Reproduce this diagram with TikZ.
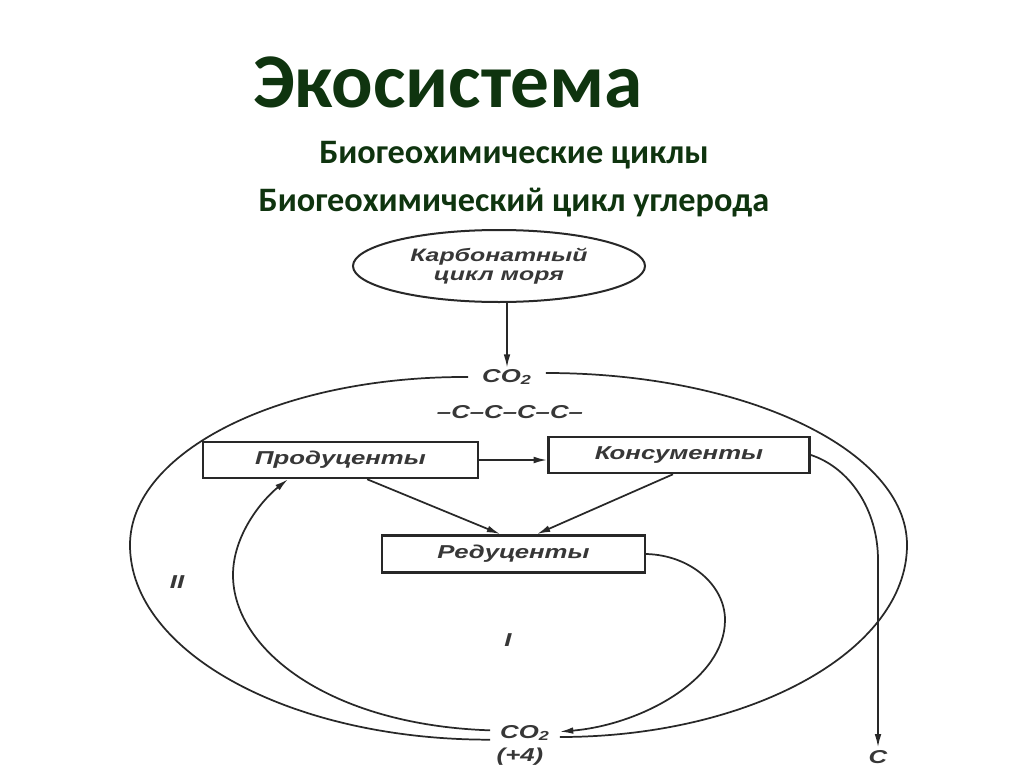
\documentclass[tikz,border=0pt]{standalone}
\usepackage{fontspec}
\usepackage{graphicx}
\setmainfont{Carlito}
\newfontfamily\dfont{Liberation Sans}
\usetikzlibrary{shapes.geometric,arrows.meta}
\definecolor{titlegreen}{RGB}{15,52,15}
\definecolor{ink}{RGB}{40,40,40}
\definecolor{txtgray}{RGB}{55,55,55}
\newcommand\dtxt[1]{\scalebox{1.38}[1]{#1}}
\tikzset{
  titletext/.style={text=titlegreen,font=\bfseries,inner sep=0pt},
  dlab/.style={text=txtgray,font=\dfont\bfseries\itshape\fontsize{14}{15}\selectfont,inner sep=0pt},
  boxnode/.style={draw=ink,line width=1.9pt,rectangle,inner sep=0pt,text=txtgray,
     font=\dfont\bfseries\itshape\fontsize{14}{15}\selectfont},
  conn/.style={draw=ink,line width=1.3pt},
  arr/.style={conn,-{Latex[length=10pt,width=5pt]}},
}
\begin{document}
\begin{tikzpicture}[x=0.75pt,y=-0.75pt]
\useasboundingbox[fill=white] (0,0) rectangle (1024,767);
% titles
\node[titletext,anchor=base west,font=\bfseries\fontsize{58}{60}\selectfont] (title) at (253,108) {Экосистема};
\node[titletext,font=\bfseries\fontsize{25.7}{28}\selectfont] (sub1) at (514,155) {Биогеохимические циклы};
\node[titletext,font=\bfseries\fontsize{25.7}{28}\selectfont] (sub2) at (514,203) {Биогеохимический цикл углерода};
% diagram nodes
\node[draw=ink,line width=1.5pt,ellipse,minimum width=219pt,minimum height=54pt,inner sep=0pt,
      text=txtgray,font=\dfont\bfseries\itshape\fontsize{13.5}{14}\selectfont,align=center] (ell) at (499,266)
      {\dtxt{Карбонатный}\\\dtxt{цикл моря}};
\node[dlab,minimum width=58pt,minimum height=13.5pt] (co2t) at (507,377) {\dtxt{CO\textsubscript{2}}};
\node[dlab] (chain) at (510,412) {\dtxt{–C–C–C–C–}};
\node[boxnode,minimum width=206pt,minimum height=27pt] (prod) at (340.5,460) {\dtxt{Продуценты}};
\node[boxnode,minimum width=196pt,minimum height=27pt] (kons) at (679,455) {\dtxt{Консументы}};
\node[boxnode,minimum width=197pt,minimum height=28pt] (red) at (513.5,554) {\dtxt{Редуценты}};
\node[dlab,minimum width=52pt,minimum height=14pt] (co2b) at (525,733) {\dtxt{CO\textsubscript{2}}};
\node[dlab] (plus) at (520,757) {\dtxt{(+4)}};
\node[dlab] (cc) at (878,757) {\dtxt{C}};
\node[dlab] (lII) at (177,582) {\dtxt{II}};
\node[dlab] (lI) at (508,640) {\dtxt{I}};
% connectors
\draw[arr] (ell.south -| co2t.north) -- (co2t.north);
\draw[arr] (prod.east) -- (prod.east -| kons.west);
\draw[arr] ([xshift=20pt]prod.south) -- ([xshift=-10pt]red.north);
\draw[arr] ([xshift=-4.5pt]kons.south) -- ([xshift=17.6pt]red.north);
% outer loop II
\draw[conn] (co2t.west) .. controls (280,376) and (130,452) .. (130,545)
   .. controls (130,652) and (290,740) .. ([yshift=-5pt]co2b.west);
\draw[conn] ([yshift=3pt]co2t.east) .. controls (745,373) and (907,450) .. (907,545)
   .. controls (907,651) and (750,737) .. ([yshift=-3pt]co2b.east);
% inner loop I
\draw[arr] (red.east) .. controls (690,555) and (725,585) .. (725,620)
   .. controls (725,680) and (640,725) .. ([yshift=1pt]co2b.east);
\draw[arr] ([yshift=2pt]co2b.west) .. controls (330,725) and (233,650) .. (233,575)
   .. controls (233,535) and (262,500) .. ([xshift=-39.4pt]prod.south);
% consumers to sediment C
\draw[arr] (kons.east) .. controls (850,468) and (878,510) .. (878,560) -- ([yshift=2pt]cc.north);
\end{tikzpicture}
\end{document}
